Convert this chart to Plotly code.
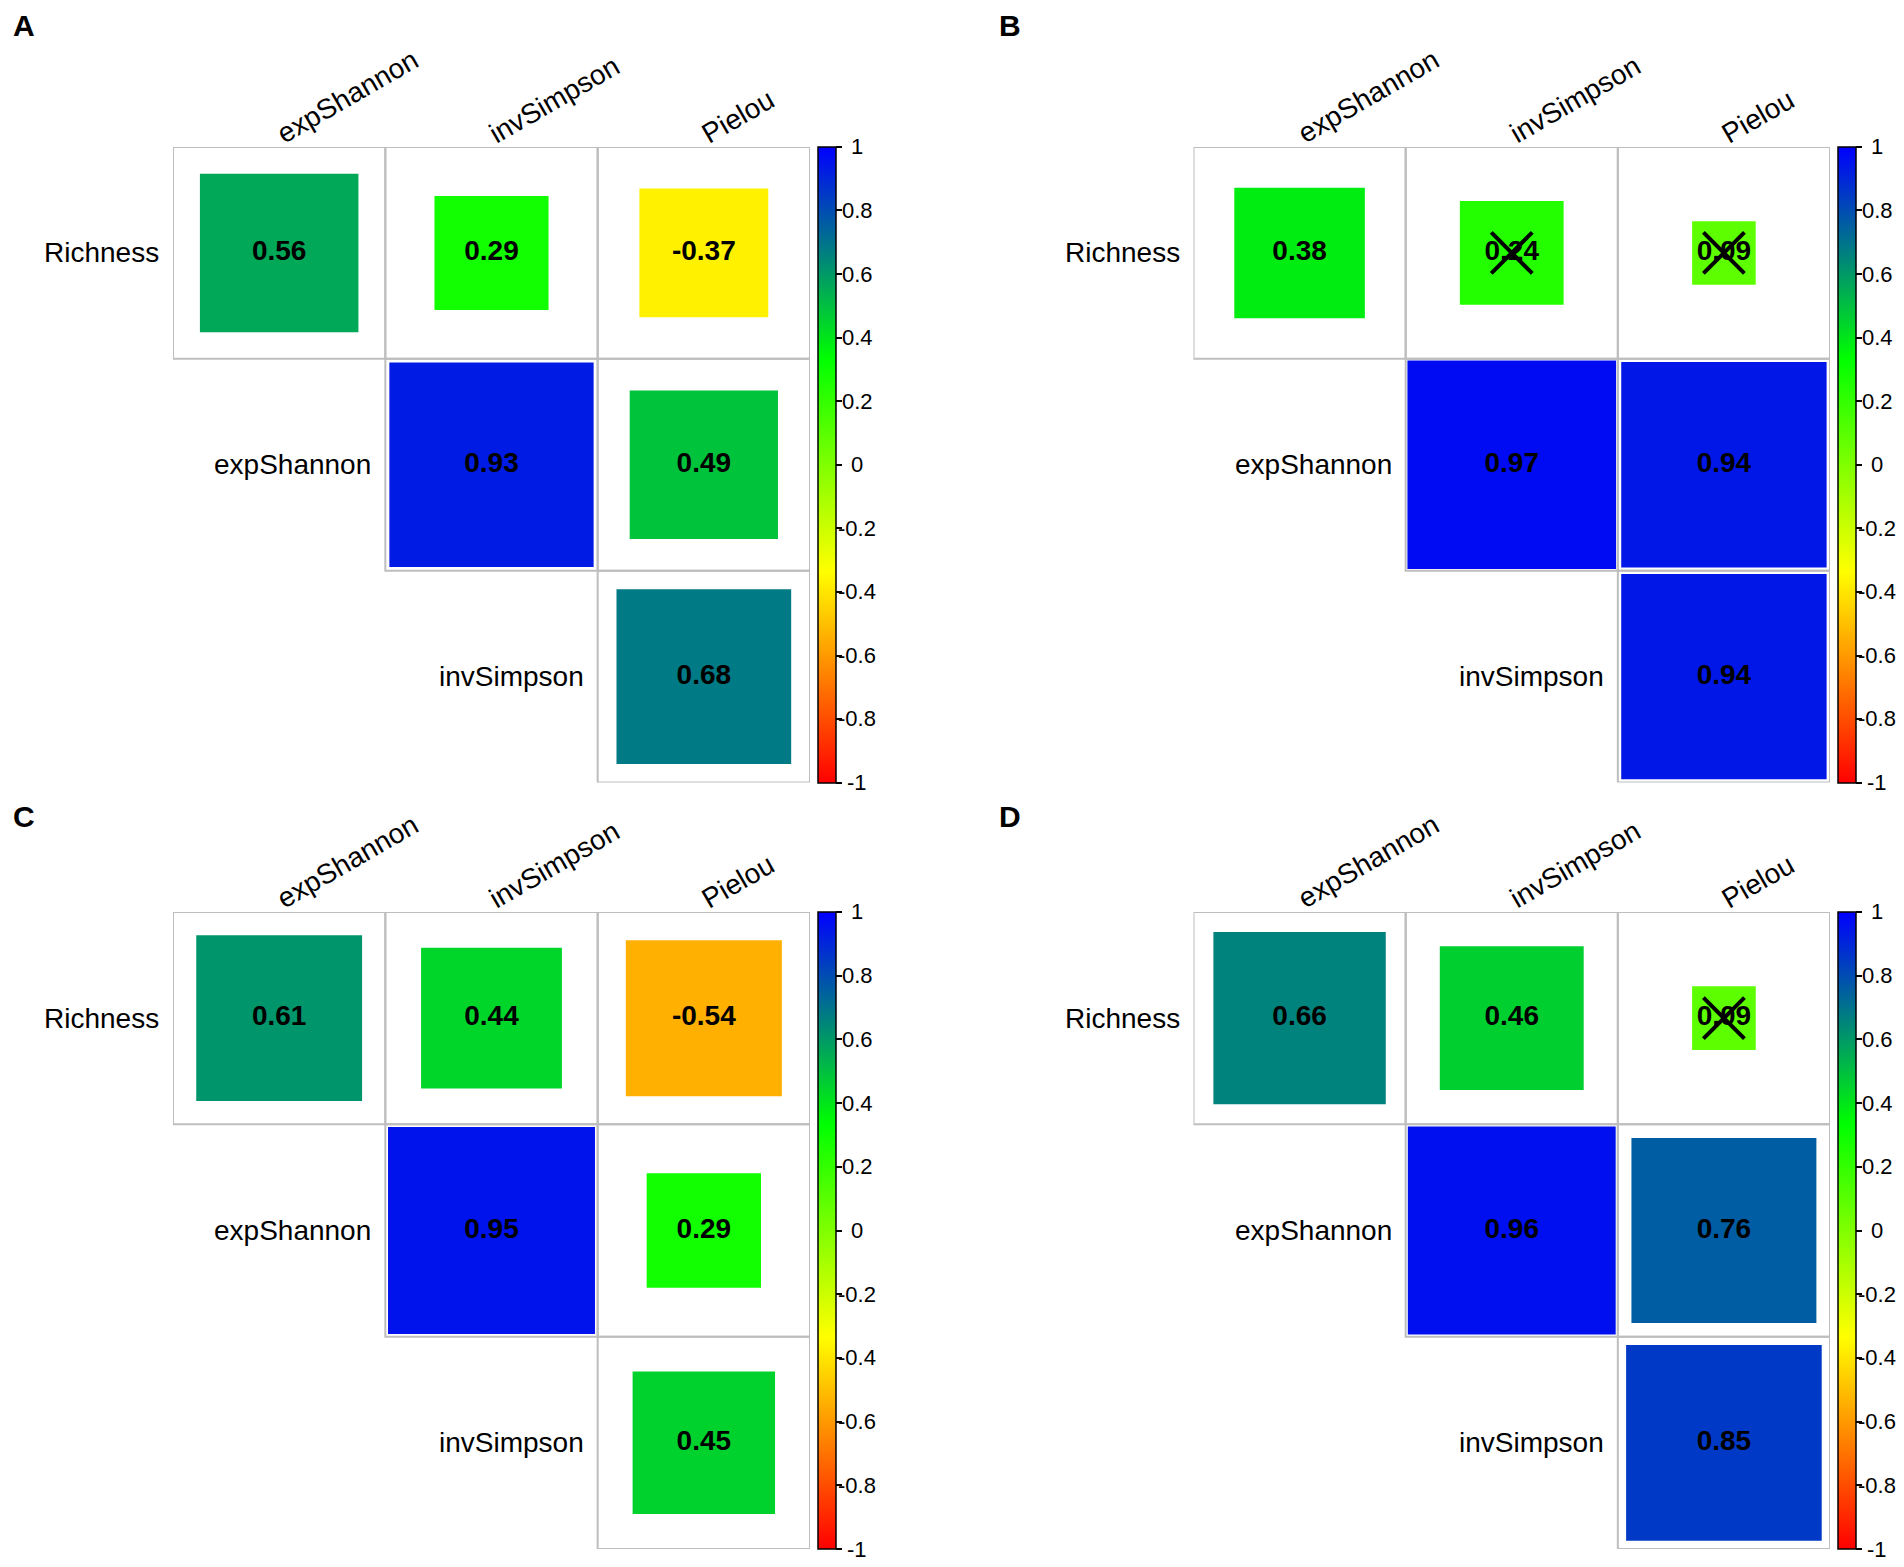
import math
import plotly.graph_objects as go

W, H = 1904, 1567

# ---------------- data ----------------
row_labels = ["Richness", "expShannon", "invSimpson"]
col_labels = ["expShannon", "invSimpson", "Pielou"]
panel_letters = ["A", "B", "C", "D"]

# upper-triangle values, order: (Richness,expShannon), (Richness,invSimpson), (Richness,Pielou),
# (expShannon,invSimpson), (expShannon,Pielou), (invSimpson,Pielou)
corr_A = [0.56, 0.29, -0.37, 0.93, 0.49, 0.68]
corr_B = [0.38, 0.24, 0.09, 0.97, 0.94, 0.94]
corr_C = [0.61, 0.44, -0.54, 0.95, 0.29, 0.45]
corr_D = [0.66, 0.46, 0.09, 0.96, 0.76, 0.85]

# non-significant (crossed) flags in same order
insig_A = [False, False, False, False, False, False]
insig_B = [False, True, True, False, False, False]
insig_C = [False, False, False, False, False, False]
insig_D = [False, False, True, False, False, False]

cbar_ticks = [1, 0.8, 0.6, 0.4, 0.2, 0, -0.2, -0.4, -0.6, -0.8, -1]
cbar_ticktext = ["1", "0.8", "0.6", "0.4", "0.2", "0", "-0.2", "-0.4", "-0.6", "-0.8", "-1"]

# cell positions (row index, col index) for the upper triangle
cells = [(0, 0), (0, 1), (0, 2), (1, 1), (1, 2), (2, 2)]

panels = [corr_A, corr_B, corr_C, corr_D]
insigs = [insig_A, insig_B, insig_C, insig_D]

# ---------------- layout geometry (pixels) ----------------
grid_x = [(173, 810), (1193.5, 1830), (173, 810), (1193.5, 1830)]
grid_y = [(147, 782.5), (147, 782.5), (912, 1549), (912, 1549)]
letter_pos = [(24, 26), (1010, 26), (24, 816), (1010, 816)]
CB_GAP, CB_THICK, CB_LABEL_DX = 8, 18, 21


def px(p):
    return p / W


def py(p):
    return 1 - p / H


colorscale = [[0, "rgb(255,0,0)"], [1 / 3, "rgb(255,255,0)"],
              [2 / 3, "rgb(0,255,0)"], [1, "rgb(0,0,255)"]]

FONT = "Liberation Sans, Arial, sans-serif"
GRID_COLOR = "#BEBEBE"

fig = go.Figure()
layout = dict(
    width=W, height=H, margin=dict(l=0, r=0, t=0, b=0), autosize=False,
    paper_bgcolor="white", plot_bgcolor="rgba(0,0,0,0)",
    showlegend=False, font=dict(family=FONT, color="black"),
)
shapes = []
annotations = []

for k in range(4):
    sfx = "" if k == 0 else str(k + 1)
    csfx = str(k + 5)
    xa, ya, yc = "x" + sfx, "y" + sfx, "y" + csfx
    (gx0, gx1), (gy0, gy1) = grid_x[k], grid_y[k]
    layout["xaxis" + sfx] = dict(domain=[px(gx0), px(gx1)], range=[0.5, 3.5],
                                 visible=False, fixedrange=True, anchor=ya)
    layout["yaxis" + sfx] = dict(domain=[py(gy1), py(gy0)], range=[3.5, 0.5],
                                 visible=False, fixedrange=True, anchor=xa)
    # hidden axis matching the colour bar, used to place its tick labels
    layout["yaxis" + csfx] = dict(domain=[py(gy1), py(gy0)], range=[-1, 1],
                                  visible=False, fixedrange=True, anchor="free",
                                  overlaying=ya, position=px(gx1))
    cell_px = min((gx1 - gx0), (gy1 - gy0)) / 3.0

    vals = panels[k]
    xs = [c + 1 for (r, c) in cells]
    ys = [r + 1 for (r, c) in cells]

    # grid cells
    for (r, c) in cells:
        shapes.append(dict(type="rect", xref=xa, yref=ya,
                           x0=c + 0.5, x1=c + 1.5, y0=r + 0.5, y1=r + 1.5,
                           line=dict(color=GRID_COLOR, width=2), layer="below"))

    sizes = [math.sqrt(abs(v)) * cell_px for v in vals]
    fig.add_trace(go.Scatter(
        x=xs, y=ys, xaxis=xa, yaxis=ya, mode="markers+text",
        marker=dict(symbol="square", size=sizes, color=vals, colorscale=colorscale,
                    cmin=-1, cmax=1, opacity=1, line=dict(width=0), showscale=True,
                    colorbar=dict(
                        x=px(gx1 + CB_GAP), xanchor="left", xpad=0,
                        y=py((gy0 + gy1) / 2), yanchor="middle", ypad=0,
                        len=gy1 - gy0, lenmode="pixels",
                        thickness=CB_THICK, thicknessmode="pixels",
                        outlinewidth=1.5, outlinecolor="black",
                        tickmode="array", tickvals=cbar_ticks, ticktext=cbar_ticktext,
                        ticks="outside", ticklen=6, tickwidth=1.5, tickcolor="black",
                        showticklabels=False,
                    )),
        text=["%.2f" % v for v in vals], textposition="middle center",
        textfont=dict(family=FONT, size=28, color="black", weight="bold"),
        hoverinfo="skip", cliponaxis=False,
    ))

    # crosses for non-significant cells
    cx = [x for x, f in zip(xs, insigs[k]) if f]
    cy = [y for y, f in zip(ys, insigs[k]) if f]
    if cx:
        fig.add_trace(go.Scatter(
            x=cx, y=cy, xaxis=xa, yaxis=ya, mode="markers",
            marker=dict(symbol="x-thin", size=41, color="black", opacity=1,
                        line=dict(width=4, color="black")),
            hoverinfo="skip", cliponaxis=False,
        ))

    # colour-bar tick labels (centred, as in corrplot)
    cb_right = gx1 + CB_GAP + CB_THICK
    for v, t in zip(cbar_ticks, cbar_ticktext):
        annotations.append(dict(xref="paper", yref=yc, x=px(cb_right + CB_LABEL_DX), y=v,
                                text=t, showarrow=False, xanchor="center", yanchor="middle",
                                font=dict(family=FONT, size=22, color="black")))

    # row labels
    for i, lab in enumerate(row_labels):
        annotations.append(dict(xref=xa, yref=ya, x=i + 0.5, y=i + 1, text=lab,
                                showarrow=False, xanchor="right", yanchor="middle",
                                xshift=-12, font=dict(family=FONT, size=28, color="black")))
    # column labels (rotated)
    for j, lab in enumerate(col_labels):
        annotations.append(dict(xref=xa, yref=ya, x=j + 1, y=0.5, text=lab,
                                showarrow=False, textangle=-30, xanchor="left",
                                yanchor="bottom", xshift=-10, yshift=-5,
                                font=dict(family=FONT, size=28, color="black")))
    # panel letter
    lx, ly = letter_pos[k]
    annotations.append(dict(xref="paper", yref="paper", x=px(lx), y=py(ly),
                            text="<b>%s</b>" % panel_letters[k], showarrow=False,
                            xanchor="center", yanchor="middle",
                            font=dict(family=FONT, size=30, color="black")))

layout["shapes"] = shapes
layout["annotations"] = annotations
fig.update_layout(**layout)
fig.write_html(
    "out.html",
    config={"displayModeBar": False, "responsive": False},
    post_script="document.documentElement.style.margin='0';"
                "document.documentElement.style.overflow='hidden';"
                "document.body.style.margin='0';document.body.style.overflow='hidden';",
)
